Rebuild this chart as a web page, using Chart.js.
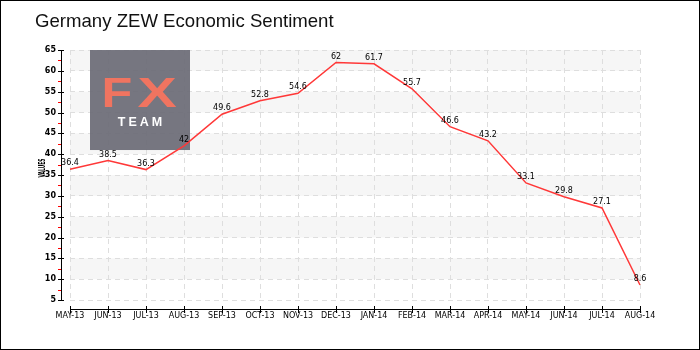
<!DOCTYPE html>
<html>
<head>
<meta charset="utf-8">
<script src="https://cdn.jsdelivr.net/npm/chart.js@4"></script>
<style>
  html, body { margin: 0; padding: 0; background: #fff; }
  #wrap { width: 700px; height: 350px; position: relative; }
</style>
</head>
<body>
<div id="wrap"><canvas id="c" width="700" height="350"></canvas></div>
<script>
const chartTitle = 'Germany ZEW Economic Sentiment';
const axisTitle = 'VALUES';
const categories = ['MAY-13','JUN-13','JUL-13','AUG-13','SEP-13','OCT-13','NOV-13','DEC-13',
                    'JAN-14','FEB-14','MAR-14','APR-14','MAY-14','JUN-14','JUL-14','AUG-14'];
const values = [36.4, 38.5, 36.3, 42, 49.6, 52.8, 54.6, 62, 61.7, 55.7, 46.6, 43.2, 33.1, 29.8, 27.1, 8.6];
const yTickValues = [5, 10, 15, 20, 25, 30, 35, 40, 45, 50, 55, 60, 65];
const yMinorValues = [7.5, 12.5, 17.5, 22.5, 27.5, 32.5, 37.5, 42.5, 47.5, 52.5, 57.5, 62.5];

const smallFont = 'DejaVu Sans';

const decor = {
  id: 'decor',
  beforeDraw(chart) {
    const ctx = chart.ctx, ca = chart.chartArea, y = chart.scales.y;
    ctx.save();
    ctx.fillStyle = '#ffffff';
    ctx.fillRect(0, 0, chart.width, chart.height);
    // alternating bands
    ctx.fillStyle = '#f6f6f6';
    for (let i = 0; i < yTickValues.length - 1; i++) {
      const lo = yTickValues[i], hi = yTickValues[i + 1];
      if ((yTickValues.length - 2 - i) % 2 === 0) {
        const y1 = y.getPixelForValue(hi), y2 = y.getPixelForValue(lo);
        ctx.fillRect(ca.left, y1, ca.right - ca.left, y2 - y1);
      }
    }
    ctx.restore();
  },
  beforeDatasetsDraw(chart) {
    const ctx = chart.ctx, ca = chart.chartArea;
    // watermark logo
    ctx.save();
    const lx = ca.left + 20, ly = ca.top, lw = 100, lh = 100;
    ctx.fillStyle = 'rgba(108,108,118,0.93)';
    ctx.fillRect(lx, ly, lw, lh);
    ctx.fillStyle = '#f07460';
    ctx.font = 'bold 42px "Liberation Sans"';
    ctx.textBaseline = 'alphabetic';
    ctx.textAlign = 'center';
    ctx.save(); ctx.translate(lx + 27, ly + 57); ctx.scale(1.2, 1); ctx.fillText('F', 0, 0); ctx.restore();
    ctx.save(); ctx.translate(lx + 67, ly + 57); ctx.scale(1.4, 1); ctx.fillText('X', 0, 0); ctx.restore();
    ctx.fillStyle = '#ffffff';
    ctx.font = 'bold 12.5px "Liberation Sans"';
    ctx.letterSpacing = '3px';
    ctx.fillText('TEAM', lx + 51.5, ly + 76);
    ctx.letterSpacing = '0px';
    ctx.restore();
  },
  afterDatasetsDraw(chart) {
    const ctx = chart.ctx, ca = chart.chartArea, ys = chart.scales.y, xs = chart.scales.x;
    ctx.save();
    // data labels
    const meta = chart.getDatasetMeta(0);
    ctx.fillStyle = '#000';
    ctx.font = '8px "' + smallFont + '"';
    ctx.textAlign = 'center';
    ctx.textBaseline = 'bottom';
    meta.data.forEach((pt, i) => {
      ctx.fillText(String(values[i]), pt.x, pt.y - 2);
    });
    // y axis line and ticks
    const ax = ca.left - 9;
    ctx.fillStyle = '#000';
    ctx.fillRect(ax, ca.top, 1, ca.bottom - ca.top + 1);
    yTickValues.forEach(v => {
      const py = Math.round(ys.getPixelForValue(v));
      ctx.fillRect(ax - 3, py, 6, 1);
    });
    ctx.fillStyle = '#ff0000';
    yMinorValues.forEach(v => {
      const py = Math.round(ys.getPixelForValue(v));
      ctx.fillRect(ax - 3, py, 3, 1);
    });
    // x axis line and ticks
    const ay = ca.bottom + 9;
    ctx.fillStyle = '#000';
    ctx.fillRect(ca.left, ay, ca.right - ca.left + 1, 1);
    categories.forEach((c, i) => {
      const px = Math.round(xs.getPixelForValue(i));
      ctx.fillRect(px, ay - 3, 1, 7);
    });
    // y axis title
    ctx.save();
    ctx.translate(ca.left - 27, (ca.top + ca.bottom) / 2 - 7);
    ctx.rotate(-Math.PI / 2);
    ctx.font = 'bold 8px "' + smallFont + '"';
    const w = ctx.measureText(axisTitle).width;
    ctx.scale(19 / w, 1);
    ctx.textAlign = 'center';
    ctx.textBaseline = 'middle';
    ctx.fillStyle = '#000';
    ctx.fillText(axisTitle, 0, 0);
    ctx.restore();
    // outer border
    ctx.strokeStyle = '#000';
    ctx.lineWidth = 2;
    ctx.strokeRect(0, 0, chart.width, chart.height);
    ctx.restore();
  }
};

new Chart(document.getElementById('c'), {
  type: 'line',
  data: {
    labels: categories,
    datasets: [{
      data: values,
      borderColor: '#ff3838',
      borderWidth: 1.5,
      pointRadius: 0,
      tension: 0,
      fill: false
    }]
  },
  options: {
    responsive: false,
    animation: false,
    devicePixelRatio: 1,
    layout: { padding: { left: 35, right: 60, top: 0, bottom: 0 } },
    plugins: {
      legend: { display: false },
      tooltip: { enabled: false },
      title: {
        display: true,
        text: chartTitle,
        align: 'start',
        color: '#111',
        font: { family: 'Liberation Sans', size: 18.6, weight: 'normal' },
        padding: { top: 11, bottom: 16.7 }
      }
    },
    scales: {
      x: {
        type: 'category',
        offset: false,
        grid: { color: '#dedede', lineWidth: 1, drawTicks: true, tickLength: 10, tickColor: 'rgba(0,0,0,0)' },
        border: { display: false, dash: [5, 4] },
        ticks: { color: '#000', font: { family: smallFont, size: 8 }, padding: 1, maxRotation: 0, autoSkip: false },
        afterFit(s) { s.height = 50; }
      },
      y: {
        min: 5,
        max: 65,
        afterBuildTicks(s) { s.ticks = yTickValues.map(v => ({ value: v })); },
        grid: { color: '#dedede', lineWidth: 1, drawTicks: true, tickLength: 10, tickColor: 'rgba(0,0,0,0)' },
        border: { display: false, dash: [5, 4] },
        ticks: { color: '#000', font: { family: smallFont, size: 8, weight: 'bold' }, padding: 4 },
        afterFit(s) { s.width = 35; }
      }
    }
  },
  plugins: [decor]
});
</script>
</body>
</html>
